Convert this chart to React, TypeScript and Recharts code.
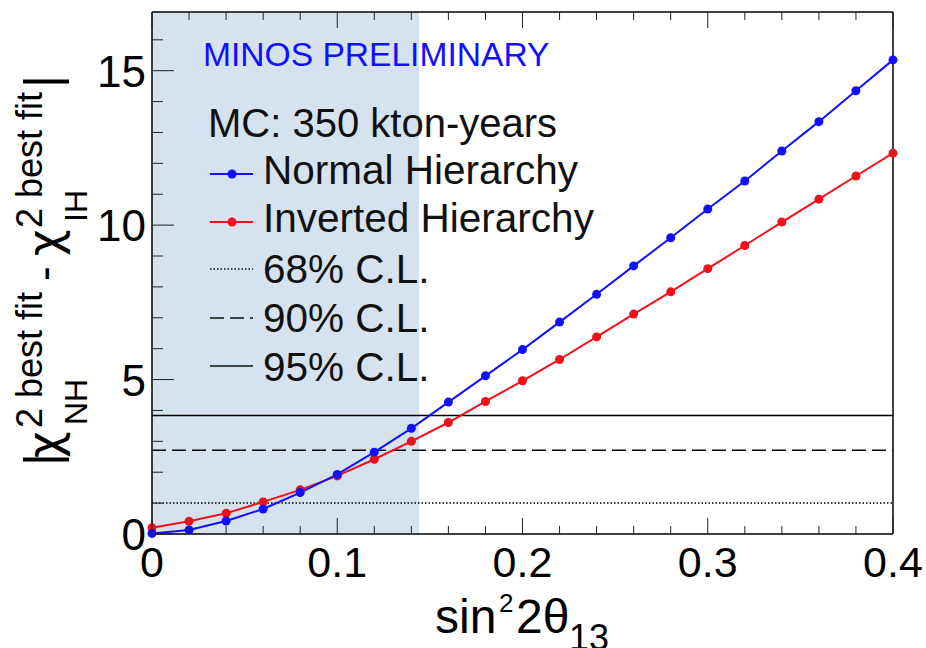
import React from "react";
import {
  ComposedChart,
  Line,
  XAxis,
  YAxis,
  CartesianGrid,
  ReferenceLine,
  Customized,
} from "recharts";

const W = 926;
const H = 648;
const FONT = '"Liberation Sans", Arial, Helvetica, sans-serif';
const GREEK = '"DejaVu Sans", "Liberation Sans", sans-serif';

// sin^2 2theta13 grid
const SIN2 = [
  0, 0.02, 0.04, 0.06, 0.08, 0.1, 0.12, 0.14, 0.16, 0.18, 0.2, 0.22, 0.24,
  0.26, 0.28, 0.3, 0.32, 0.34, 0.36, 0.38, 0.4,
];
const NORMAL = [
  0.02, 0.13, 0.42, 0.81, 1.34, 1.93, 2.65, 3.42, 4.27, 5.12, 5.97, 6.86, 7.76,
  8.68, 9.59, 10.52, 11.43, 12.4, 13.35, 14.35, 15.35,
];
const INVERTED = [
  0.2, 0.41, 0.67, 1.04, 1.43, 1.88, 2.42, 3.0, 3.61, 4.29, 4.96, 5.65, 6.38,
  7.12, 7.84, 8.59, 9.34, 10.1, 10.84, 11.59, 12.33,
];

const CL68 = 1.0;
const CL90 = 2.71;
const CL95 = 3.84;
const EXCLUDED_MAX = 0.1443;

const X_MAX = 0.4;
const X_MAJOR = [0, 0.1, 0.2, 0.3, 0.4];
const X_LABELS = ["0", "0.1", "0.2", "0.3", "0.4"];
const X_TICKS = SIN2;
const Y_MAJOR = [0, 5, 10, 15];
const Y_TICKS = [0, 1, 2, 3, 4, 5, 6, 7, 8, 9, 10, 11, 12, 13, 14, 15, 16];
const Y_MAX = 16.9;

const BLUE = "#1010ff";
const RED = "#f0101a";
const INK = "#111";
const SHADE = "#d6e2ee";

const data = SIN2.map((x, i) => ({ x, nh: NORMAL[i], ih: INVERTED[i] }));

const isMajor = (v: number, majors: number[]) =>
  majors.some((m) => Math.abs(m - v) < 1e-6);

// shaded (excluded) band edges, through the x scale
const shadeEdges = ({ xAxis, offset }: any) => {
  const s = xAxis?.scale;
  if (typeof s === "function") return [s(0), s(EXCLUDED_MAX)];
  return [offset.left, offset.left + (offset.width * EXCLUDED_MAX) / X_MAX];
};

function BottomTick({ x, y, payload }: any) {
  const v = payload.value;
  const idx = X_MAJOR.findIndex((m) => Math.abs(m - v) < 1e-6);
  const major = idx >= 0;
  return (
    <g>
      <line x1={x} x2={x} y1={y} y2={y - (major ? 16 : 8)} stroke="#222" strokeWidth={1} />
      {major && (
        <text x={x} y={y + 43} textAnchor="middle" fontSize={43} fontFamily={FONT} fill="#000">
          {X_LABELS[idx]}
        </text>
      )}
    </g>
  );
}

function TopTick({ x, y, payload }: any) {
  const major = isMajor(payload.value, X_MAJOR);
  return <line x1={x} x2={x} y1={y} y2={y + (major ? 16 : 8)} stroke="#222" strokeWidth={1} />;
}

function LeftTick({ x, y, payload }: any) {
  const v = payload.value;
  const major = isMajor(v, Y_MAJOR);
  return (
    <g>
      <line x1={x} x2={x + (major ? 22 : 11)} y1={y} y2={y} stroke="#222" strokeWidth={1} />
      {major && (
        <text x={x - 6} y={y + 16} textAnchor="end" fontSize={44} fontFamily={FONT} fill="#000">
          {v}
        </text>
      )}
    </g>
  );
}

function RightTick({ x, y, payload }: any) {
  const major = isMajor(payload.value, Y_MAJOR);
  return <line x1={x} x2={x - (major ? 22 : 11)} y1={y} y2={y} stroke="#222" strokeWidth={1} />;
}

function Rot({ x, y, size, font, children }: any) {
  return (
    <text
      transform={`translate(${x},${y}) rotate(-90)`}
      fontSize={size}
      fontFamily={font || FONT}
      fill="#000"
    >
      {children}
    </text>
  );
}

const LEGEND = [
  { label: "Normal Hierarchy", color: BLUE, dot: true, dash: undefined as string | undefined },
  { label: "Inverted Hierarchy", color: RED, dot: true, dash: undefined },
  { label: "68% C.L.", color: INK, dot: false, dash: "1.5 2" },
  { label: "90% C.L.", color: INK, dot: false, dash: "14 6" },
  { label: "95% C.L.", color: INK, dot: false, dash: undefined },
];
const LEGEND_TEXT_Y = [184, 232, 283, 332, 381];
const LEGEND_LINE_Y = [174, 222, 269, 318, 366];

function Annotations() {
  return (
    <g fontFamily={FONT}>
      <text x={203} y={66} fontSize={33.6} fill={BLUE}>
        MINOS PRELIMINARY
      </text>
      <text x={208} y={137} fontSize={40} fill={INK}>
        MC: 350 kton-years
      </text>
      {LEGEND.map((item, i) => (
        <g key={item.label}>
          <line
            x1={210}
            x2={253}
            y1={LEGEND_LINE_Y[i]}
            y2={LEGEND_LINE_Y[i]}
            stroke={item.color}
            strokeWidth={item.dot ? 2 : 1.5}
            strokeDasharray={item.dash}
          />
          {item.dot && <circle cx={232} cy={LEGEND_LINE_Y[i]} r={4.5} fill={item.color} />}
          <text x={263} y={LEGEND_TEXT_Y[i]} fontSize={40.5} fill={INK}>
            {item.label}
          </text>
        </g>
      ))}

      {/* y title: |chi2_NH best fit - chi2_IH best fit| */}
      <Rot x={59} y={466} size={50}>|</Rot>
      <Rot x={60} y={458} size={46} font={GREEK}>χ</Rot>
      <Rot x={42} y={428} size={36}>2 best fit</Rot>
      <Rot x={87} y={425} size={32}>NH</Rot>
      <Rot x={59} y={281} size={44}>-</Rot>
      <Rot x={60} y={256} size={46} font={GREEK}>χ</Rot>
      <Rot x={42} y={228} size={36}>2 best fit</Rot>
      <Rot x={87} y={222} size={32}>IH</Rot>
      <Rot x={59} y={88} size={50}>|</Rot>

      {/* x title: sin^2 2theta_13 */}
      <text x={435} y={633} fontSize={48} fill="#000">sin</text>
      <text x={499} y={612} fontSize={26} fill="#000">2</text>
      <text x={516} y={633} fontSize={48} fill="#000">2θ</text>
      <text x={569} y={650} fontSize={36} fill="#000">13</text>
    </g>
  );
}

export default function App() {
  return (
    <div style={{ width: W, height: H, background: "#fff" }}>
      <style>{`body{margin:0}`}</style>
      <ComposedChart
        width={W}
        height={H}
        data={data}
        margin={{ top: 11, right: 32, left: 0, bottom: 0 }}
      >
        <CartesianGrid
          horizontal={false}
          vertical={true}
          stroke="transparent"
          verticalCoordinatesGenerator={shadeEdges}
          verticalFill={[SHADE, "#ffffff"]}
          fillOpacity={1}
        />
        <XAxis
          dataKey="x"
          type="number"
          domain={[0, X_MAX]}
          ticks={X_TICKS}
          interval={0}
          height={114}
          tickSize={0}
          tickMargin={0}
          tickLine={false}
          axisLine={{ stroke: "#000", strokeWidth: 1.5 }}
          tick={<BottomTick />}
        />
        <XAxis
          xAxisId="top"
          orientation="top"
          dataKey="x"
          type="number"
          domain={[0, X_MAX]}
          ticks={X_TICKS}
          interval={0}
          height={1}
          tickSize={0}
          tickMargin={0}
          tickLine={false}
          axisLine={{ stroke: "#000", strokeWidth: 1.5 }}
          tick={<TopTick />}
        />
        <YAxis
          type="number"
          domain={[0, Y_MAX]}
          ticks={Y_TICKS}
          interval={0}
          width={152}
          tickSize={0}
          tickMargin={0}
          tickLine={false}
          axisLine={{ stroke: "#000", strokeWidth: 1.5 }}
          tick={<LeftTick />}
        />
        <YAxis
          yAxisId="right"
          orientation="right"
          type="number"
          domain={[0, Y_MAX]}
          ticks={Y_TICKS}
          interval={0}
          width={1}
          tickSize={0}
          tickMargin={0}
          tickLine={false}
          axisLine={{ stroke: "#000", strokeWidth: 1.5 }}
          tick={<RightTick />}
        />
        <ReferenceLine y={CL68} stroke="#000" strokeWidth={1.5} strokeDasharray="1.5 2" />
        <ReferenceLine y={CL90} stroke="#000" strokeWidth={1.5} strokeDasharray="14 6" />
        <ReferenceLine y={CL95} stroke="#000" strokeWidth={1.5} />
        <Line
          type="linear"
          dataKey="ih"
          stroke={RED}
          strokeWidth={2}
          dot={{ r: 4.5, fill: RED, stroke: RED, strokeWidth: 0 }}
          isAnimationActive={false}
        />
        <Line
          type="linear"
          dataKey="nh"
          stroke={BLUE}
          strokeWidth={2}
          dot={{ r: 4.5, fill: BLUE, stroke: BLUE, strokeWidth: 0 }}
          isAnimationActive={false}
        />
        <Customized component={Annotations} />
      </ComposedChart>
    </div>
  );
}
